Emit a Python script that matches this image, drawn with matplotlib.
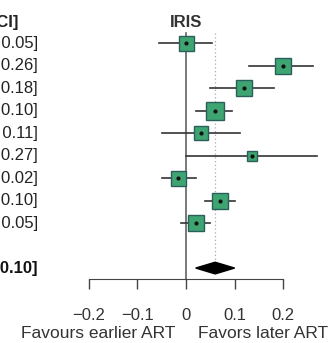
import numpy as np
import matplotlib.pyplot as plt

plt.rcParams['font.family'] = ['Liberation Sans', 'DejaVu Sans']

# study estimates
est = [0.00, 0.20, 0.12, 0.06, 0.03, 0.135, -0.016, 0.07, 0.02]
lo = [-0.055, 0.13, 0.05, 0.02, -0.05, 0.00, -0.05, 0.04, -0.01]
hi = [0.053, 0.26, 0.18, 0.095, 0.11, 0.27, 0.02, 0.10, 0.05]
box_px = [15, 16, 16, 18, 14, 10, 15, 16, 16]
ci_labels = ["[-0.05, 0.05]", "[0.13, 0.26]", "[0.05, 0.18]", "[0.02, 0.10]",
             "[-0.05, 0.11]", "[0.00, 0.27]", "[-0.05,  0.02]", "[0.04, 0.10]",
             "[-0.01, 0.05]"]
pooled = (0.06, 0.02, 0.10)
pooled_label = "[0.02, 0.10]"
xticks = [-0.2, -0.1, 0, 0.1, 0.2]
xtick_labels = ["\u22120.2", "\u22120.1", "0", "0.1", "0.2"]

fig = plt.figure(figsize=(3.32, 3.43), dpi=100)
ax = fig.add_axes([0, 0, 1, 1])
ax.set_xlim(-0.382, 0.300)
ax.set_ylim(14.33, -0.911)
for s in ['top', 'right', 'left']:
    ax.spines[s].set_visible(False)
ax.set_yticks([])

rows = np.arange(1, len(est) + 1)
box_fc = '#3ea572'
box_ec = '#2b5f5c'

# reference lines
ax.plot([0, 0], [0.55, 11.5], color='#555555', lw=1.1, zorder=1)
ax.plot([pooled[0], pooled[0]], [0.55, 10.75], color='#aaaaaa', lw=0.9,
        ls=(0, (1, 2)), zorder=1)

for r, e, l, h, b, lab in zip(rows, est, lo, hi, box_px, ci_labels):
    ax.plot([l, h], [r, r], color='#333333', lw=1.2, zorder=2)
    ax.plot(e, r, marker='s', ms=b * 0.72, mfc=box_fc, mec=box_ec, mew=1.0, zorder=3)
    ax.plot(e, r, marker='o', ms=2, color='#111111', zorder=4)
    ax.text(-0.304, r, lab, ha='right', va='center', fontsize=12, color='#222222')

# pooled diamond
yd = 11
ax.fill([pooled[1], pooled[0], pooled[2], pooled[0]],
        [yd, yd - 0.26, yd, yd + 0.26], color='black', zorder=3)
ax.text(-0.304, yd, pooled_label, ha='right', va='center', fontsize=12,
        fontweight='bold', color='#111111')

# headers
ax.text(0, 0.07, "IRIS", ha='center', va='center', fontsize=12, fontweight='bold',
        color='#333333')
ax.text(-0.345, 0.07, "[95% CI]", ha='right', va='center', fontsize=12,
        fontweight='bold', color='#222222')

# x axis
ax.spines['bottom'].set_position(('data', 11.5))
ax.spines['bottom'].set_bounds(-0.2, 0.2)
ax.spines['bottom'].set_color('#444444')
ax.set_xticks(xticks)
ax.set_xticklabels(xtick_labels, fontsize=12, color='#333333')
ax.tick_params(axis='x', direction='out', length=7.5, width=1.0, color='#444444', pad=13)

ax.text(-0.0226, 13.9, "Favours earlier ART", ha='right', va='center', fontsize=12.5,
        color='#333333')
ax.text(0.0246, 13.9, "Favors later ART", ha='left', va='center', fontsize=12.5,
        color='#333333')

fig.savefig('out.png', dpi=100)
